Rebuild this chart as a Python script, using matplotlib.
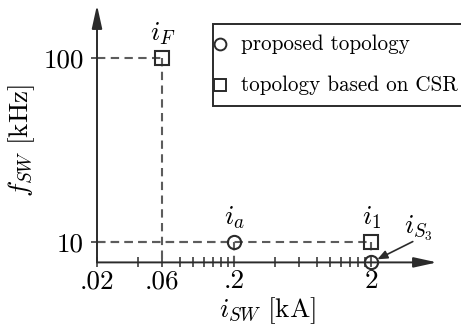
import matplotlib
matplotlib.use("Agg")
import matplotlib.pyplot as plt
from matplotlib.lines import Line2D
from matplotlib.patches import Rectangle
from matplotlib.ticker import NullFormatter

plt.rcParams["font.family"] = "serif"
plt.rcParams["font.serif"] = ["cmr10"]
plt.rcParams["mathtext.fontset"] = "cm"
plt.rcParams["axes.formatter.use_mathtext"] = True

# Operating points: switched current [kA] vs switching frequency [kHz]
proposed_labels = [r"$i_a$", r"$i_{S_3}$"]
proposed_current = [0.2, 2.0]
proposed_freq = [10, 0]

csr_labels = [r"$i_F$", r"$i_1$"]
csr_current = [0.06, 2.0]
csr_freq = [100, 10]

# Axis ticks
x_major = [0.02, 0.06, 0.2, 2.0]
x_major_labels = [".02", ".06", ".2", "2"]
x_minor = [0.04, 0.08, 0.10, 0.12, 0.14, 0.16, 0.18,
           0.4, 0.6, 0.8, 1.0, 1.2, 1.4, 1.6, 1.8]
y_major = [10, 100]
y_major_labels = ["10", "100"]

x_range = (0.02, 6.05)
y_range = (0, 126)

series_names = ["proposed topology", "topology based on CSR"]
series_markers = ["o", "s"]

DARK = "#2b2b2b"
DASH = "#5c5c5c"
BIG = 19.5
W, H = 461, 332


def fx(px):
    return px / W


def fy(py):
    return 1 - py / H


fig = plt.figure(figsize=(W / 100, H / 100), dpi=100)
ax = fig.add_axes([fx(97), fy(262.4), 340 / W, 257.4 / H])
ax.set_xscale("log")
ax.set_xlim(*x_range)
ax.set_ylim(*y_range)
for s in ax.spines.values():
    s.set_visible(False)
ax.patch.set_alpha(0)

# axes drawn as arrows
arrow_kw = dict(arrowstyle="-|>,head_length=1.0,head_width=0.22",
                color=DARK, lw=1.4, shrinkA=0, shrinkB=0, mutation_scale=14)
ax.annotate("", xy=(1, 0), xytext=(0, 0), xycoords="axes fraction",
            arrowprops=arrow_kw, annotation_clip=False, zorder=4)
ax.annotate("", xy=(0, 1), xytext=(0, 0), xycoords="axes fraction",
            arrowprops=arrow_kw, annotation_clip=False, zorder=4)

# ticks
ax.set_xticks(x_major, x_major_labels)
ax.set_xticks(x_minor, minor=True)
ax.xaxis.set_minor_formatter(NullFormatter())
ax.set_yticks(y_major, y_major_labels)
ax.tick_params(axis="x", which="both", direction="inout", length=7.5, width=1.1,
               color=DARK, labelsize=BIG, pad=1.5, top=False)
ax.tick_params(axis="y", which="both", direction="inout", length=9, width=1.1,
               color=DARK, labelsize=BIG, pad=5, right=False)

# dashed guide lines from each point to the axes
dash = dict(color=DASH, lw=1.5, ls=(0, (4, 2.6)), zorder=2)
for xs, ys in zip(csr_current + proposed_current, csr_freq + proposed_freq):
    if ys > 0:
        ax.plot([x_range[0], xs], [ys, ys], **dash)
        ax.plot([xs, xs], [ys, 0], **dash)

# markers
ax.plot(proposed_current, proposed_freq, ls="none", marker="o", ms=9.5,
        mfc="none", mec=DARK, mew=1.5, zorder=5, clip_on=False)
ax.plot(csr_current, csr_freq, ls="none", marker="s", ms=9.5,
        mfc="none", mec=DARK, mew=1.5, zorder=5, clip_on=False)

# point labels
for lab, xs, ys in [(csr_labels[0], csr_current[0], csr_freq[0]),
                    (csr_labels[1], csr_current[1], csr_freq[1]),
                    (proposed_labels[0], proposed_current[0], proposed_freq[0])]:
    ax.annotate(lab, xy=(xs, ys), xytext=(0.5, 17.5), textcoords="offset points",
                ha="center", va="center", fontsize=BIG)

ax.annotate(proposed_labels[1], xy=(proposed_current[1], proposed_freq[1]),
            xytext=(34, 24.5), textcoords="offset points", ha="center",
            va="center", fontsize=BIG, annotation_clip=False)
ax.annotate("", xy=(proposed_current[1], proposed_freq[1]), xytext=(30, 15),
            textcoords="offset points", annotation_clip=False,
            arrowprops=dict(arrowstyle="-|>,head_length=0.6,head_width=0.25",
                            color=DARK, lw=1.2, shrinkA=0, shrinkB=5,
                            mutation_scale=10))

# axis labels
fig.text(fx(267), fy(311), r"$i_{SW}\ [\mathrm{kA}]$", ha="center",
         va="center", fontsize=BIG)
fig.text(fx(22), fy(141), r"$f_{SW}\ [\mathrm{kHz}]$", ha="center",
         va="center", rotation=90, fontsize=BIG)

# legend box with its two entries
fig.add_artist(Rectangle((fx(213), fy(106)), fx(470) - fx(213), fy(24) - fy(106),
                         transform=fig.transFigure, facecolor="white",
                         edgecolor=DARK, lw=1.4, clip_on=False))
for name, mk, y_mark, y_base in zip(series_names, series_markers,
                                    [43.5, 85], [49.5, 90.5]):
    fig.add_artist(Line2D([fx(220)], [fy(y_mark)], transform=fig.transFigure,
                          ls="none", marker=mk, ms=8.5, mfc="none", mec=DARK,
                          mew=1.4))
    fig.text(fx(241), fy(y_base), name, ha="left", va="baseline", fontsize=15.2)

fig.savefig("out.png", dpi=100)
